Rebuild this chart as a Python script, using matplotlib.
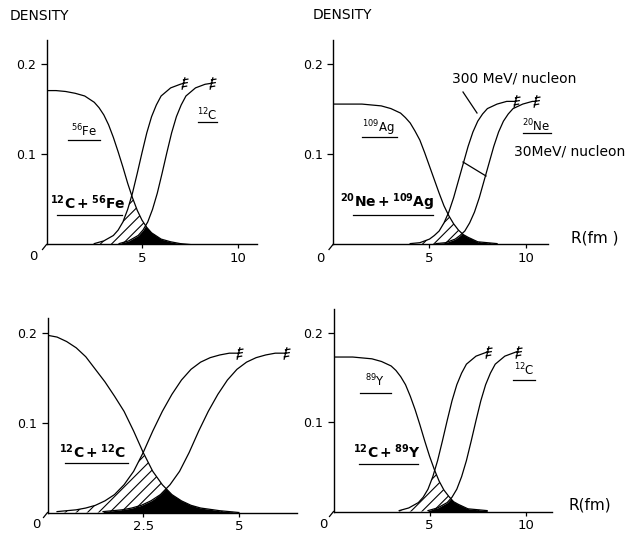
import numpy as np
import matplotlib
matplotlib.use("Agg")
import matplotlib.pyplot as plt
from matplotlib.lines import Line2D
from matplotlib.path import Path

# ---- density profiles (fm, fm^-3) ----
# 12C + 56Fe
fe_r = [0, 0.5, 1, 1.5, 2, 2.5, 2.75, 3, 3.25, 3.5, 3.75, 4, 4.25, 4.5, 4.75, 5, 5.25, 5.5, 6, 6.5, 7, 7.5]
fe_rho = [0.171, 0.171, 0.170, 0.168, 0.165, 0.158, 0.152, 0.144, 0.133, 0.119, 0.103, 0.086, 0.068, 0.052,
          0.038, 0.027, 0.019, 0.013, 0.006, 0.003, 0.001, 0.0]
c_fe_near_r = [2.5, 3, 3.5, 3.75, 4, 4.25, 4.5, 4.75, 5, 5.25, 5.5, 5.75, 6, 6.5, 7, 7.16]
c_fe_far_r = [3.8, 4.3, 4.8, 5.05, 5.3, 5.55, 5.8, 6.05, 6.3, 6.55, 6.8, 7.05, 7.3, 7.8, 8.3, 8.6]
c_fe_rho = [0.001, 0.004, 0.010, 0.016, 0.025, 0.039, 0.057, 0.079, 0.102, 0.124, 0.142, 0.155, 0.165,
            0.174, 0.178, 0.179]

# 20Ne + 109Ag
ag_r = [0, 0.5, 1, 1.5, 2, 2.5, 3, 3.5, 3.75, 4, 4.25, 4.5, 4.75, 5, 5.25, 5.5, 5.75, 6, 6.25, 6.5, 6.75,
        7, 7.5, 8, 8.5]
ag_rho = [0.156, 0.156, 0.156, 0.156, 0.155, 0.154, 0.151, 0.146, 0.141, 0.135, 0.126, 0.116, 0.102, 0.087,
          0.072, 0.057, 0.043, 0.032, 0.023, 0.016, 0.011, 0.008, 0.003, 0.002, 0.001]
ne_300_r = [4, 4.5, 5, 5.25, 5.5, 5.75, 6, 6.25, 6.5, 6.75, 7, 7.25, 7.5, 7.75, 8, 8.5, 9, 9.43]
ne_30_r = [5.33, 5.83, 6.33, 6.58, 6.83, 7.08, 7.33, 7.58, 7.83, 8.08, 8.33, 8.58, 8.83, 9.08, 9.33, 9.83,
           10.33, 10.47]
ne_rho = [0.001, 0.002, 0.006, 0.010, 0.015, 0.024, 0.036, 0.052, 0.071, 0.090, 0.109, 0.125, 0.137, 0.145,
          0.151, 0.156, 0.159, 0.159]

# 12C + 12C
cc_r = [0, 0.25, 0.5, 0.75, 1.0, 1.25, 1.5, 1.75, 2.0, 2.25, 2.5, 2.75, 3.0, 3.25, 3.5, 3.75, 4.0, 4.5, 5.0]
cc_rho = [0.198, 0.196, 0.191, 0.184, 0.174, 0.160, 0.146, 0.130, 0.113, 0.091, 0.067, 0.046, 0.031, 0.020,
          0.013, 0.008, 0.005, 0.002, 0.0]
c_cc_near_r = [0.25, 0.5, 0.75, 1.0, 1.25, 1.5, 1.75, 2.0, 2.25, 2.5, 2.75, 3.0, 3.25, 3.5, 3.75, 4.0, 4.25,
               4.5, 4.75, 4.98]
c_cc_far_r = [1.45, 1.7, 1.95, 2.2, 2.45, 2.7, 2.95, 3.2, 3.45, 3.7, 3.95, 4.2, 4.45, 4.7, 4.95, 5.2, 5.45,
              5.7, 5.95, 6.2]
c_cc_rho = [0.001, 0.002, 0.003, 0.005, 0.008, 0.013, 0.020, 0.031, 0.046, 0.067, 0.091, 0.113, 0.132, 0.148,
            0.160, 0.168, 0.173, 0.176, 0.178, 0.178]

# 12C + 89Y
y_r = [0, 0.5, 1, 1.5, 2, 2.5, 3, 3.25, 3.5, 3.75, 4, 4.25, 4.5, 4.75, 5, 5.25, 5.5, 5.75, 6, 6.25, 6.5,
       7, 7.5, 8]
y_rho = [0.173, 0.173, 0.173, 0.172, 0.171, 0.168, 0.163, 0.158, 0.151, 0.142, 0.129, 0.114, 0.097, 0.079,
         0.062, 0.047, 0.034, 0.024, 0.017, 0.011, 0.008, 0.003, 0.002, 0.001]
c_y_near_r = [3.42, 3.92, 4.42, 4.67, 4.92, 5.17, 5.42, 5.67, 5.92, 6.17, 6.42, 6.67, 6.92, 7.42, 7.92, 8.0]
c_y_far_r = [4.92, 5.42, 5.92, 6.17, 6.42, 6.67, 6.92, 7.17, 7.42, 7.67, 7.92, 8.17, 8.42, 8.92, 9.42, 9.54]
c_y_rho = c_fe_rho

W, H = 644, 535
plt.rcParams["font.family"] = "DejaVu Sans"
plt.rcParams["hatch.linewidth"] = 0.8
fig = plt.figure(figsize=(W / 100, H / 100), dpi=100)

# little "continues" mark drawn at the end of each projectile curve
BREAK = Path([(-0.12, -0.5), (0.12, 0.5), (-0.05, 0.28), (0.4, 0.36), (-0.1, 0.0), (0.35, 0.08),
              (-0.15, -0.28), (0.3, -0.2)], [Path.MOVETO, Path.LINETO] * 4)


def fpos(x, y):
    return x / W, 1 - y / H


def text(x, y, s, size=8, **kw):
    fig.text(*fpos(x, y), s, fontsize=size, ha="center", va="center", **kw)


def line(x1, y1, x2, y2, lw=0.9):
    fig.add_artist(Line2D([x1 / W, x2 / W], [1 - y1 / H, 1 - y2 / H], color="k", lw=lw))


def rule(x1, x2, y):
    line(x1, y, x2, y)


def panel(x0, x1, y0, y1, xmax, ymax, xticks, target, near, far):
    ax = fig.add_axes([x0 / W, 1 - y0 / H, (x1 - x0) / W, (y0 - y1) / H])
    ax.set_xlim(0, xmax)
    ax.set_ylim(0, ymax)
    for s in ("top", "right"):
        ax.spines[s].set_visible(False)
    for s in ("left", "bottom"):
        ax.spines[s].set_linewidth(1.0)
    ax.set_xticks(xticks)
    ax.set_xticklabels([f"{t:g}" for t in xticks], fontsize=9.5)
    ax.set_yticks([0.1, 0.2])
    ax.set_yticklabels(["0.1", "0.2"], fontsize=9)
    ax.tick_params(axis="x", length=3, width=0.9, pad=2.6)
    ax.tick_params(axis="y", length=4.5, width=0.9, pad=3)

    # overlap of target with the near (hatched) and far (black) projectile
    grid = np.linspace(0, xmax, 1200)
    t = np.interp(grid, target[0], target[1], right=0)
    n = np.interp(grid, near[0], near[1], left=0)
    f = np.interp(grid, far[0], far[1], left=0)
    ax.fill_between(grid, 0, np.minimum(t, n), facecolor="white", edgecolor="k", hatch="///", lw=0, zorder=1)
    ax.fill_between(grid, 0, np.minimum(t, f), color="k", lw=0, zorder=2)

    ax.plot(target[0], target[1], color="k", lw=0.9, zorder=3)
    for r, p in (near, far):
        ax.plot(r, p, color="k", lw=0.9, zorder=3)
        ax.plot(r[-1], p[-1], marker=BREAK, ms=9, mfc="none", mec="k", mew=0.9, zorder=4, clip_on=False)
    # kinked origin of the axes
    line(x0, y0, x0 - 4, y0 + 5)
    return ax


panel(46.5, 257, 244.5, 40, 11.02, 0.2272, [5, 10], (fe_r, fe_rho), (c_fe_near_r, c_fe_rho),
      (c_fe_far_r, c_fe_rho))
panel(333, 548, 244.5, 40, 11.14, 0.2272, [5, 10], (ag_r, ag_rho), (ne_300_r, ne_rho), (ne_30_r, ne_rho))
panel(47.5, 296.7, 512.5, 318, 6.51, 0.2173, [2.5, 5], (cc_r, cc_rho), (c_cc_near_r, c_cc_rho),
      (c_cc_far_r, c_cc_rho))
panel(333.5, 551.5, 511.5, 309, 11.35, 0.2268, [5, 10], (y_r, y_rho), (c_y_near_r, c_y_rho),
      (c_y_far_r, c_y_rho))

# origin labels
for x, y in ((33, 257), (320, 258), (36, 525), (323, 525)):
    text(x, y, "0", size=9.5)

# axis titles
fig.text(*fpos(10, 16), "DENSITY", fontsize=10, ha="left", va="center")
fig.text(*fpos(313, 15), "DENSITY", fontsize=10, ha="left", va="center")
text(595, 238, "R(fm )", size=11)
text(590, 505, "R(fm)", size=11)

# 12C + 56Fe
text(84, 131, r"$^{56}$Fe", size=8.5)
rule(68, 100, 140)
text(207, 115, r"$^{12}$C", size=8.5)
rule(198, 217, 122)
text(88, 203, r"$\mathbf{^{12}C+^{56}Fe}$", size=10)
rule(57, 122, 215)

# 20Ne + 109Ag
text(378, 128, r"$^{109}$Ag", size=8.5)
rule(362, 397, 137)
text(536, 126, r"$^{20}$Ne", size=8.5)
rule(523, 551, 133)
text(387, 202, r"$\mathbf{^{20}Ne+^{109}Ag}$", size=10)
rule(353, 433, 215)
text(514, 78, "300 MeV/ nucleon", size=10)
line(463, 92, 477, 113)
text(570, 151, "30MeV/ nucleon", size=10)
line(463, 162, 486, 176)

# 12C + 12C
text(92, 452, r"$\mathbf{^{12}C+^{12}C}$", size=10)
rule(65, 128, 463)

# 12C + 89Y
text(375, 381, r"$^{89}$Y", size=8.5)
rule(360, 391, 393)
text(524, 370, r"$^{12}$C", size=8.5)
rule(513, 535, 380)
text(387, 452, r"$\mathbf{^{12}C+^{89}Y}$", size=10)
rule(359, 418, 464)

fig.savefig("out.png", dpi=100, facecolor="white")
